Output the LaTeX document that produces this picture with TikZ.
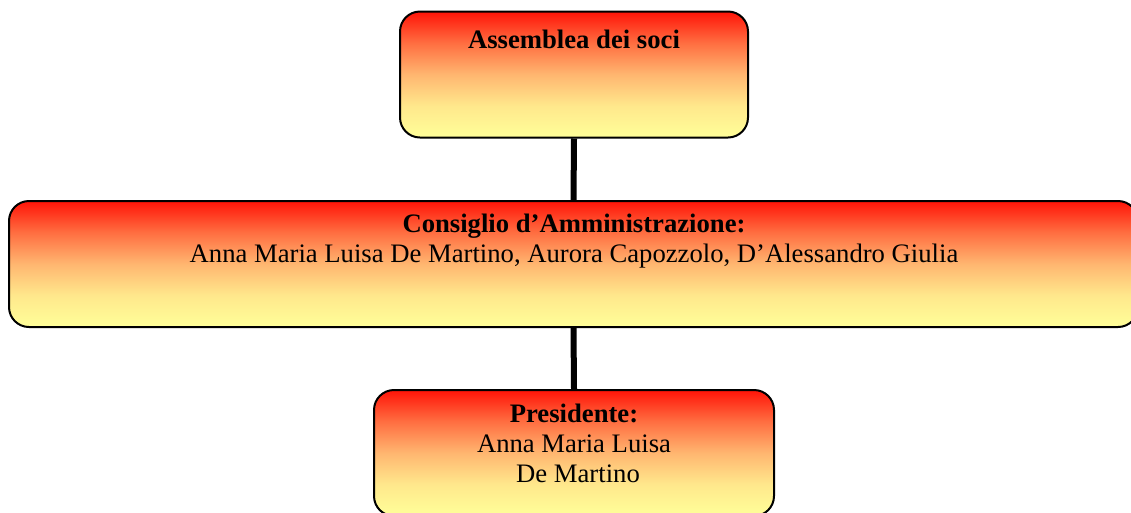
\documentclass[tikz,border=0pt]{standalone}
\usepackage{fontspec}
\setmainfont{Liberation Serif}
\usepackage{xcolor}
\usepackage{tikz}
\usetikzlibrary{calc}
\usetikzlibrary{shapes}
\definecolor{topred}{RGB}{255,20,8}
\definecolor{upperorange}{RGB}{255,110,65}
\definecolor{midorange}{RGB}{255,182,112}
\definecolor{lowerorange}{RGB}{255,232,140}
\definecolor{lowyellow}{RGB}{255,255,153}
\pgfdeclareverticalshading{redyellow}{100bp}{color(0bp)=(lowyellow); color(25bp)=(lowyellow);
  color(37.5bp)=(lowerorange); color(50bp)=(midorange); color(62.5bp)=(upperorange);
  color(75bp)=(topred); color(100bp)=(topred)}
\tikzset{
  box/.style={draw=black,rectangle,rounded corners=15pt,line width=1.5pt,
    shading=redyellow,minimum height=94.5pt,inner sep=0pt},
  txt/.style={draw=none,inner sep=0pt,align=center,
    font=\fontsize{20pt}{22.5pt}\selectfont},
  link/.style={line width=4.5pt}
}

\begin{document}
\begin{tikzpicture}[x=0.75pt,y=-0.75pt]
\useasboundingbox (0,0) rectangle (1131,512);
\clip (0,0) rectangle (1131,512);

\draw node[box,minimum width=261pt] at (574,74.5) (ass) {};
\draw node[box,minimum width=846.75pt] at (573.5,264) (cda) {};
\draw node[box,minimum width=300pt] at (574,453) (pres) {};

\draw node[txt,anchor=base] at (574,48) (asst) {\textbf{Assemblea dei soci}};
\draw node[txt,anchor=north] at (574,213.8) (cdat) {\textbf{Consiglio d’Amministrazione:}\\
  Anna Maria Luisa De Martino, Aurora Capozzolo, D’Alessandro Giulia};
\draw node[txt,anchor=north] at (574,403.5) (prest) {\textbf{Presidente:}\\
  Anna Maria Luisa\\ \hspace*{0.3em}De Martino};

\draw[link] (ass.south) -- (cda.north);
\draw[link] (cda.south) -- (pres.north);

\end{tikzpicture}
\end{document}
